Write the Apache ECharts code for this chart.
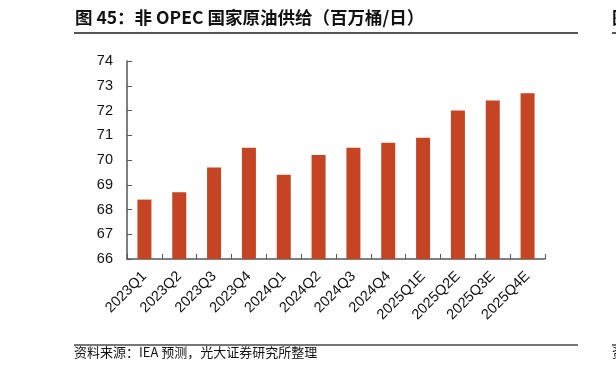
<!DOCTYPE html>
<html>
<head>
<meta charset="utf-8">
<script src="https://cdn.jsdelivr.net/npm/echarts@6/dist/echarts.min.js"></script>
<style>
html,body{margin:0;padding:0;background:#fff;}
#c{width:616px;height:370px;}
</style>
</head>
<body>
<div id="c"></div>
<script>
var categories = ['2023Q1','2023Q2','2023Q3','2023Q4','2024Q1','2024Q2','2024Q3','2024Q4','2025Q1E','2025Q2E','2025Q3E','2025Q4E'];
var supply = [68.4, 68.7, 69.7, 70.5, 69.4, 70.2, 70.5, 70.7, 70.9, 72.0, 72.4, 72.7];
var titleText = '图 45：非 OPEC 国家原油供给（百万桶/日）';
var sourceText = '资料来源：IEA 预测，光大证券研究所整理';

var chart = echarts.init(document.getElementById('c'), null, {renderer:'canvas'});
var axisColor = '#555';
chart.setOption({
  animation: false,
  backgroundColor: '#fff',
  grid: {left:127, right:71, top:61, bottom:111, containLabel:false},
  xAxis: {
    type:'category',
    data: categories,
    axisLine:{show:true, lineStyle:{color:axisColor, width:1.5}},
    axisTick:{show:true, inside:true, length:5, lineStyle:{color:axisColor}},
    axisLabel:{rotate:45, margin:15, color:'#111', fontFamily:'Liberation Sans, Arial, sans-serif', fontSize:14.5}
  },
  yAxis: {
    type:'value', min:66, max:74, interval:1,
    splitLine:{show:false},
    axisLine:{show:true, lineStyle:{color:axisColor, width:1.5}},
    axisTick:{show:true, inside:true, length:5, lineStyle:{color:axisColor}},
    axisLabel:{margin:14, color:'#111', fontFamily:'Liberation Sans, Arial, sans-serif', fontSize:14.5}
  },
  series: [{
    type:'bar',
    data: supply,
    barWidth:14,
    itemStyle:{color:'#C54424'}
  }],
  graphic: [
    {type:'text', left:75, top:9, style:{text:titleText, font:'bold 17.5px "Noto Sans CJK SC"', fill:'#111'}},
    {type:'line', shape:{x1:74, y1:33, x2:578, y2:33}, style:{stroke:'#555', lineWidth:2}},
    {type:'line', shape:{x1:74, y1:345, x2:578, y2:345}, style:{stroke:'#777', lineWidth:2}},
    {type:'text', left:74, top:346, style:{text:sourceText, font:'13px "Noto Sans CJK SC"', fill:'#111'}},
    {type:'text', left:612, top:9, style:{text:'图', font:'bold 17.5px "Noto Sans CJK SC"', fill:'#111'}},
    {type:'line', shape:{x1:612, y1:33, x2:616, y2:33}, style:{stroke:'#555', lineWidth:2}},
    {type:'line', shape:{x1:612, y1:345, x2:616, y2:345}, style:{stroke:'#777', lineWidth:2}},
    {type:'text', left:612, top:346, style:{text:'资', font:'13px "Noto Sans CJK SC"', fill:'#111'}}
  ]
});
</script>
</body>
</html>
